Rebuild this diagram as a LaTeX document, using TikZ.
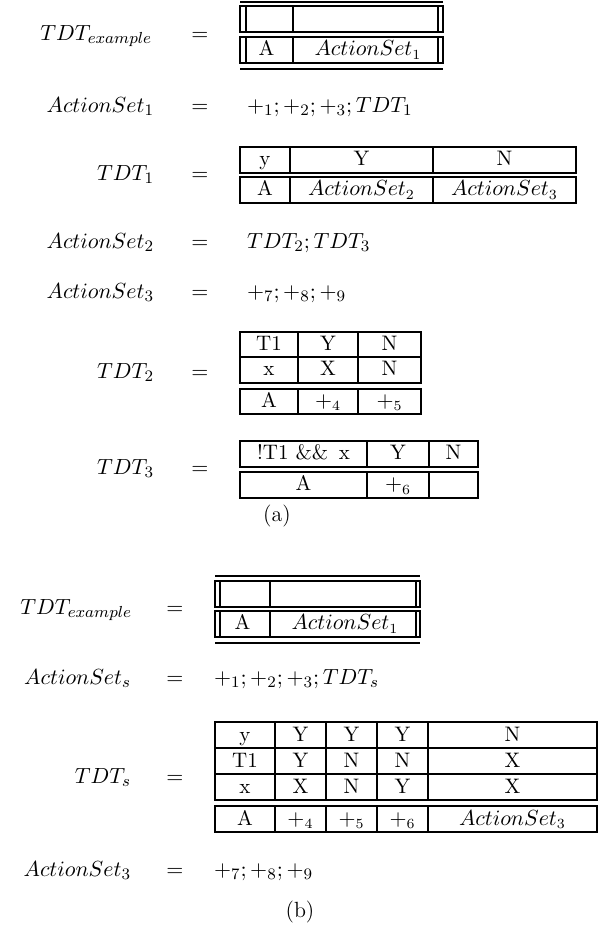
\documentclass[tikz,border=0pt]{standalone}
\usetikzlibrary{positioning}
\tikzset{
  every node/.style={font=\fontsize{11}{13}\selectfont},
  cell/.style={draw, outer sep=0pt, inner sep=0pt, minimum height=12.75pt,
    text height=8pt, text depth=2pt, font=\fontsize{10.5}{12.5}\selectfont},
  lbl/.style={anchor=base east, inner sep=0pt},
  eqs/.style={anchor=base, inner sep=0pt},
  rhs/.style={anchor=base west, inner sep=0pt}
}
\begin{document}
\begin{tikzpicture}[x=0.5pt, y=-0.5pt, line width=1pt]
    \useasboundingbox (0,0) rectangle (598,937);

    % part (a)
    \node (l1) [lbl] at (153,40) {$TDT_{example}$};
    \node (e1) [eqs] at (200,40) {$=$};
    \node (a11) [cell, minimum width=26.5pt, anchor=north west] at (240,6) {};
    \node (a12) [cell, minimum width=75pt, right=0pt of a11] {};
    \node (a21) [cell, minimum width=26.5pt, anchor=north west] at (240,37) {A};
    \node (a22) [cell, minimum width=75pt, right=0pt of a21] {$ActionSet_1$};
    \draw ([yshift=2.25pt]a11.north west) -- ([yshift=2.25pt]a12.north east);
    \draw ([yshift=-3pt]a21.south west) -- ([yshift=-3pt]a22.south east);
    \draw ([xshift=2.75pt]a11.north west) -- ([xshift=2.75pt]a11.south west);
    \draw ([xshift=-2.5pt]a12.north east) -- ([xshift=-2.5pt]a12.south east);
    \draw ([xshift=2.75pt]a21.north west) -- ([xshift=2.75pt]a21.south west);
    \draw ([xshift=-2.5pt]a22.north east) -- ([xshift=-2.5pt]a22.south east);

    \node (l2) [lbl] at (155,112) {$ActionSet_1$};
    \node (e2) [eqs] at (200,112) {$=$};
    \node (r2) [rhs] at (246,112) {$+_1;+_2;+_3;TDT_1$};

    \node (l3) [lbl] at (155,180) {$TDT_1$};
    \node (e3) [eqs] at (200,180) {$=$};
    \node (b11) [cell, minimum width=25pt, anchor=north west] at (240,147) {y};
    \node (b12) [cell, minimum width=71.5pt, right=0pt of b11] {Y};
    \node (b13) [cell, minimum width=71.5pt, right=0pt of b12] {N};
    \node (b21) [cell, minimum width=25pt, anchor=north west] at (240,177) {A};
    \node (b22) [cell, minimum width=71.5pt, right=0pt of b21] {$ActionSet_2$};
    \node (b23) [cell, minimum width=71.5pt, right=0pt of b22] {$ActionSet_3$};

    \node (l4) [lbl] at (155,248) {$ActionSet_2$};
    \node (e4) [eqs] at (200,248) {$=$};
    \node (r4) [rhs] at (246,248) {$TDT_2; TDT_3$};

    \node (l5) [lbl] at (155,298) {$ActionSet_3$};
    \node (e5) [eqs] at (200,298) {$=$};
    \node (r5) [rhs] at (246,298) {$+_7;+_8;+_9$};

    \node (l6) [lbl] at (155,378) {$TDT_2$};
    \node (e6) [eqs] at (200,378) {$=$};
    \node (c11) [cell, minimum width=29pt, anchor=north west] at (240,331.5) {T1};
    \node (c12) [cell, minimum width=30pt, right=0pt of c11] {Y};
    \node (c13) [cell, minimum width=31.5pt, right=0pt of c12] {N};
    \node (c21) [cell, minimum width=29pt, below=0pt of c11] {x};
    \node (c22) [cell, minimum width=30pt, right=0pt of c21] {X};
    \node (c23) [cell, minimum width=31.5pt, right=0pt of c22] {N};
    \node (c31) [cell, minimum width=29pt, anchor=north west] at (240,388.5) {A};
    \node (c32) [cell, minimum width=30pt, right=0pt of c31] {$+_4$};
    \node (c33) [cell, minimum width=31.5pt, right=0pt of c32] {$+_5$};

    \node (l7) [lbl] at (155,474) {$TDT_3$};
    \node (e7) [eqs] at (200,474) {$=$};
    \node (d11) [cell, minimum width=63.5pt, anchor=north west] at (240,441) {!T1 \&\& \,x};
    \node (d12) [cell, minimum width=31pt, right=0pt of d11] {Y};
    \node (d13) [cell, minimum width=24.5pt, right=0pt of d12] {N};
    \node (d21) [cell, minimum width=63.5pt, anchor=north west] at (240,472) {A};
    \node (d22) [cell, minimum width=31pt, right=0pt of d21] {$+_6$};
    \node (d23) [cell, minimum width=24.5pt, right=0pt of d22] {};

    \node (capa) at (277,516) {(a)};

    % part (b)
    \node (m1) [lbl] at (133,614) {$TDT_{example}$};
    \node (f1) [eqs] at (175,614) {$=$};
    \node (g11) [cell, minimum width=27.5pt, anchor=north west] at (215,581) {};
    \node (g12) [cell, minimum width=75pt, right=0pt of g11] {};
    \node (g21) [cell, minimum width=27.5pt, anchor=north west] at (215,611) {A};
    \node (g22) [cell, minimum width=75pt, right=0pt of g21] {$ActionSet_1$};
    \draw ([yshift=2.75pt]g11.north west) -- ([yshift=2.75pt]g12.north east);
    \draw ([yshift=-3pt]g21.south west) -- ([yshift=-3pt]g22.south east);
    \draw ([xshift=2.25pt]g11.north west) -- ([xshift=2.25pt]g11.south west);
    \draw ([xshift=-2.25pt]g12.north east) -- ([xshift=-2.25pt]g12.south east);
    \draw ([xshift=2.25pt]g21.north west) -- ([xshift=2.25pt]g21.south west);
    \draw ([xshift=-2.25pt]g22.north east) -- ([xshift=-2.25pt]g22.south east);

    \node (m2) [lbl] at (132,684) {$ActionSet_s$};
    \node (f2) [eqs] at (175,684) {$=$};
    \node (s2) [rhs] at (213,684) {$+_1;+_2;+_3;TDT_s$};

    \node (m3) [lbl] at (132,783) {$TDT_s$};
    \node (f3) [eqs] at (175,783) {$=$};
    \node (h11) [cell, minimum height=13pt, minimum width=30pt, anchor=north west] at (215,722) {y};
    \node (h12) [cell, minimum height=13pt, minimum width=25.5pt, right=0pt of h11] {Y};
    \node (h13) [cell, minimum height=13pt, minimum width=25.5pt, right=0pt of h12] {Y};
    \node (h14) [cell, minimum height=13pt, minimum width=25.5pt, right=0pt of h13] {Y};
    \node (h15) [cell, minimum height=13pt, minimum width=84.5pt, right=0pt of h14] {N};
    \node (h21) [cell, minimum height=13pt, minimum width=30pt, below=0pt of h11] {T1};
    \node (h22) [cell, minimum height=13pt, minimum width=25.5pt, right=0pt of h21] {Y};
    \node (h23) [cell, minimum height=13pt, minimum width=25.5pt, right=0pt of h22] {N};
    \node (h24) [cell, minimum height=13pt, minimum width=25.5pt, right=0pt of h23] {N};
    \node (h25) [cell, minimum height=13pt, minimum width=84.5pt, right=0pt of h24] {X};
    \node (h31) [cell, minimum height=13pt, minimum width=30pt, below=0pt of h21] {x};
    \node (h32) [cell, minimum height=13pt, minimum width=25.5pt, right=0pt of h31] {X};
    \node (h33) [cell, minimum height=13pt, minimum width=25.5pt, right=0pt of h32] {N};
    \node (h34) [cell, minimum height=13pt, minimum width=25.5pt, right=0pt of h33] {Y};
    \node (h35) [cell, minimum height=13pt, minimum width=84.5pt, right=0pt of h34] {X};
    \node (h41) [cell, minimum height=13pt, minimum width=30pt, anchor=north west] at (215,806) {A};
    \node (h42) [cell, minimum height=13pt, minimum width=25.5pt, right=0pt of h41] {$+_4$};
    \node (h43) [cell, minimum height=13pt, minimum width=25.5pt, right=0pt of h42] {$+_5$};
    \node (h44) [cell, minimum height=13pt, minimum width=25.5pt, right=0pt of h43] {$+_6$};
    \node (h45) [cell, minimum height=13pt, minimum width=84.5pt, right=0pt of h44] {$ActionSet_3$};

    \node (m4) [lbl] at (132,876) {$ActionSet_3$};
    \node (f4) [eqs] at (175,876) {$=$};
    \node (s4) [rhs] at (213,876) {$+_7;+_8;+_9$};

    \node (capb) at (300,912) {(b)};
\end{tikzpicture}
\end{document}
